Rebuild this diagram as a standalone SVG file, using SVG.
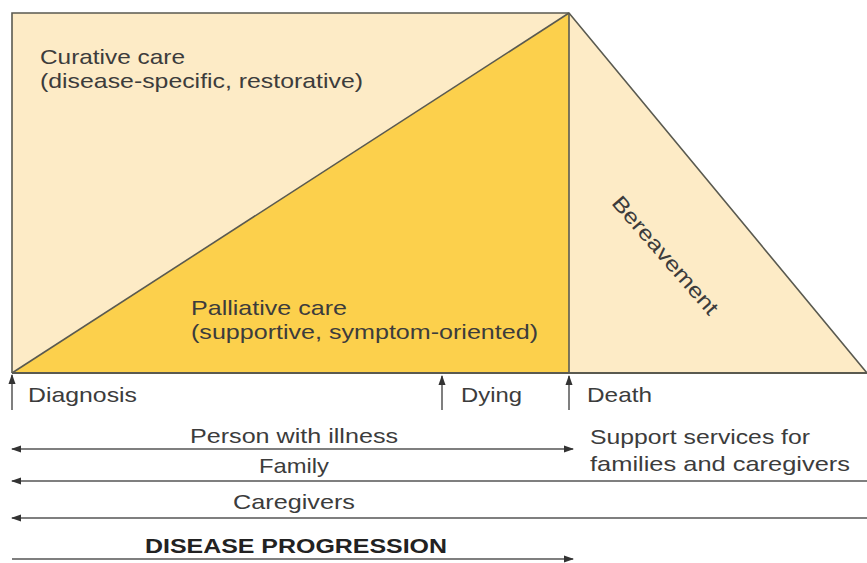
<svg xmlns="http://www.w3.org/2000/svg" width="867" height="563" viewBox="0 0 867 563">
<style>
text{font-family:"Liberation Sans",Arial,sans-serif;font-size:21px;fill:#3c3c3c}
.ln{stroke:#5a5a50;stroke-width:1.6;fill:none}
.ar{stroke:#555;stroke-width:1.5;fill:none}
</style>
<defs>
<marker id="ah" viewBox="0 0 10 10" refX="9" refY="5" markerWidth="7" markerHeight="7" orient="auto-start-reverse">
<path d="M0,1.5 L10,5 L0,8.5 z" fill="#333"/>
</marker>
</defs>
<rect width="867" height="563" fill="#fff"/>
<g id="curative">
<rect x="12" y="13" width="557" height="360" fill="#fdebc6"/>
<text x="40" y="64" textLength="145" lengthAdjust="spacingAndGlyphs">Curative care</text>
<text x="40" y="88" textLength="323" lengthAdjust="spacingAndGlyphs">(disease-specific, restorative)</text>
</g>
<g id="bereavement">
<polygon points="569,13 867,373 569,373" fill="#fdebc6"/>
<text transform="translate(660,260) rotate(49)" text-anchor="middle" textLength="150" lengthAdjust="spacingAndGlyphs">Bereavement</text>
</g>
<g id="palliative">
<polygon points="12,373 569,13 569,373" fill="#fcd04c"/>
<text x="191" y="315" textLength="156" lengthAdjust="spacingAndGlyphs">Palliative care</text>
<text x="191" y="339" textLength="347" lengthAdjust="spacingAndGlyphs">(supportive, symptom-oriented)</text>
</g>
<g id="outline">
<polyline class="ln" points="12,373 12,13 569,13 867,373"/>
<line class="ln" x1="12" y1="373" x2="569" y2="13"/>
<line class="ln" x1="569" y1="13" x2="569" y2="373"/>
<line class="ln" x1="12" y1="373" x2="867" y2="373" style="stroke-width:2.2"/>
</g>
<g id="connectors">
<line class="ar" x1="12" y1="410" x2="12" y2="375" marker-end="url(#ah)"/>
<line class="ar" x1="442" y1="410" x2="442" y2="376" marker-end="url(#ah)"/>
<line class="ar" x1="569" y1="410" x2="569" y2="376" marker-end="url(#ah)"/>
<line class="ar" x1="12" y1="449" x2="573" y2="449" marker-start="url(#ah)" marker-end="url(#ah)"/>
<line class="ar" x1="12" y1="481" x2="867" y2="481" marker-start="url(#ah)"/>
<line class="ar" x1="12" y1="518" x2="867" y2="518" marker-start="url(#ah)"/>
<line class="ar" x1="12" y1="559" x2="573" y2="559" marker-end="url(#ah)"/>
</g>
<g id="labels">
<text x="28" y="402" textLength="109" lengthAdjust="spacingAndGlyphs">Diagnosis</text>
<text x="461" y="402" textLength="61" lengthAdjust="spacingAndGlyphs">Dying</text>
<text x="587" y="402" textLength="65" lengthAdjust="spacingAndGlyphs">Death</text>
<text x="190" y="443" textLength="208" lengthAdjust="spacingAndGlyphs">Person with illness</text>
<text x="259" y="473" textLength="70" lengthAdjust="spacingAndGlyphs">Family</text>
<text x="233" y="509" textLength="122" lengthAdjust="spacingAndGlyphs">Caregivers</text>
<text x="145" y="553" textLength="302" lengthAdjust="spacingAndGlyphs" style="font-weight:bold;fill:#222">DISEASE PROGRESSION</text>
<text x="590" y="444" textLength="220" lengthAdjust="spacingAndGlyphs">Support services for</text>
<text x="590" y="471" textLength="260" lengthAdjust="spacingAndGlyphs">families and caregivers</text>
</g>
</svg>
